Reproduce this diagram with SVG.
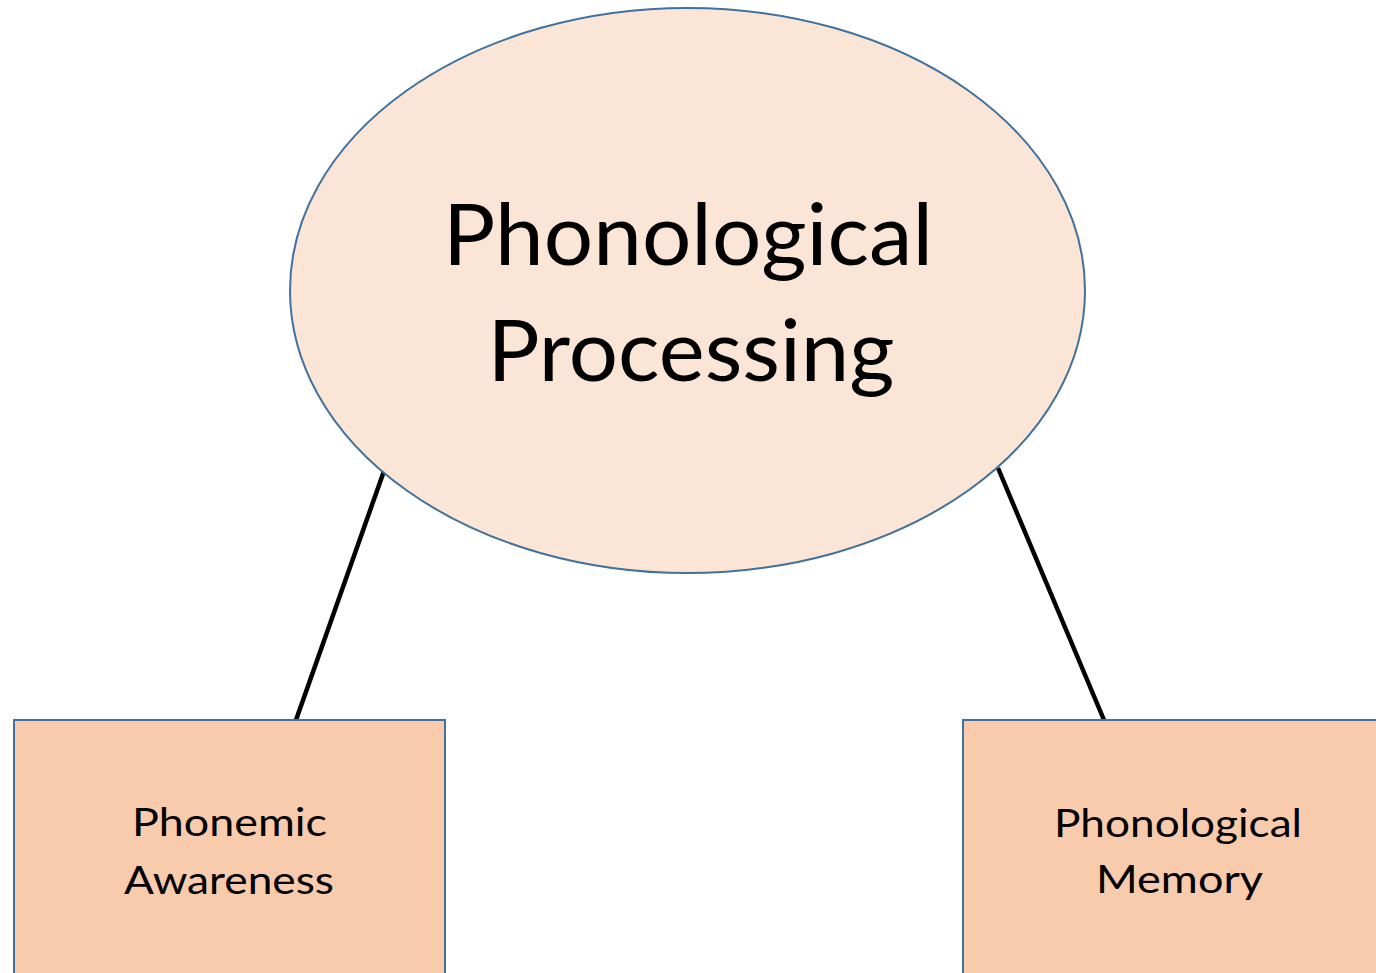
<svg xmlns="http://www.w3.org/2000/svg" width="1376" height="973" viewBox="0 0 1376 973">
<style>
.box{fill:#F8CBAD;stroke:#41719C;stroke-width:2}
.ell{fill:#FBE5D6;stroke:#41719C;stroke-width:2}
.conn{stroke:#000;stroke-width:4.5;fill:none}
text{font-family:Lato,"Open Sans",sans-serif;fill:#000;text-anchor:middle}
.big{font-size:86px}
.small{font-size:39px}
</style>
<rect width="1376" height="973" fill="#fff"/>
<g id="connectors">
<line class="conn" x1="384" y1="471" x2="296" y2="720"/>
<line class="conn" x1="998" y1="468" x2="1104" y2="720"/>
</g>
<g id="node-processing">
<ellipse class="ell" cx="687.5" cy="290.5" rx="397.5" ry="282.5"/>
<text class="big" x="688" y="265" textLength="490" lengthAdjust="spacingAndGlyphs">Phonological</text>
<text class="big" x="691" y="381" textLength="407" lengthAdjust="spacingAndGlyphs">Processing</text>
</g>
<g id="node-phonemic">
<rect class="box" x="14" y="720" width="431" height="270"/>
<text class="small" x="229.5" y="836" textLength="195" lengthAdjust="spacingAndGlyphs">Phonemic</text>
<text class="small" x="229" y="894" textLength="210" lengthAdjust="spacingAndGlyphs">Awareness</text>
</g>
<g id="node-memory">
<rect class="box" x="963" y="720" width="430" height="270"/>
<text class="small" x="1178" y="837" textLength="248" lengthAdjust="spacingAndGlyphs">Phonological</text>
<text class="small" x="1179.5" y="893" textLength="167" lengthAdjust="spacingAndGlyphs">Memory</text>
</g>
</svg>
